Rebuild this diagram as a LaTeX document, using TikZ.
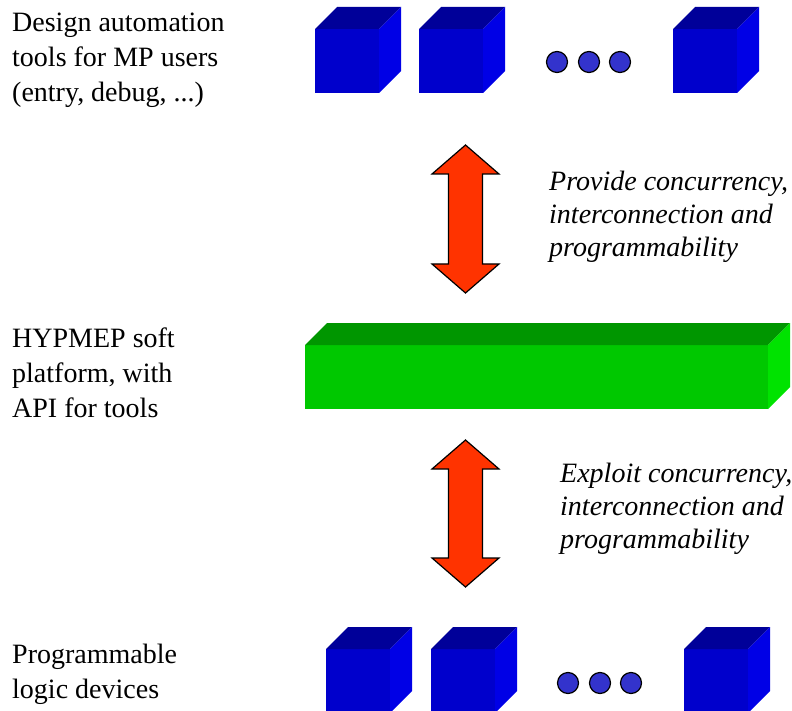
\documentclass[tikz,border=0pt]{standalone}
\usepackage{fontspec}
\setmainfont{Liberation Serif}
\usetikzlibrary{calc}
\definecolor{cubefront}{HTML}{0000CC}
\definecolor{cubetop}{HTML}{000099}
\definecolor{cubeside}{HTML}{0000E6}
\definecolor{barfront}{HTML}{00C800}
\definecolor{bartop}{HTML}{009600}
\definecolor{barside}{HTML}{00E300}
\definecolor{dotblue}{HTML}{3333CC}
\definecolor{arrowred}{HTML}{FF3300}
\tikzset{
	lbl/.style={anchor=base west, align=left, inner sep=0pt, font=\fontsize{28}{35}\selectfont},
	itlbl/.style={anchor=base west, align=left, inner sep=0pt, font=\fontsize{28}{33}\selectfont\itshape},
	dot/.style={fill=dotblue, draw=black, line width=1.2}
}
% cube with front face corner at (#1,#2)
\def\mpcube(#1,#2){
	\fill[cubefront] (#1,#2) rectangle ++(64,64);
	\fill[cubetop] (#1,#2) -- ++(22,-22) -- ++(64,0) -- ++(-22,22) -- cycle;
	\fill[cubeside] ($(#1,#2)+(64,0)$) -- ++(22,-22) -- ++(0,64) -- ++(-22,22) -- cycle;
}
% double block arrow, centre x, top tip, bottom tip
\def\twoway(#1,#2,#3){
	\filldraw[fill=arrowred, draw=black, line width=1.2]
		(#1,#2) -- (#1+33.5,#2+29) -- (#1+17,#2+29) -- (#1+17,#3-29) -- (#1+33.5,#3-29)
		-- (#1,#3) -- (#1-33.5,#3-29) -- (#1-17,#3-29) -- (#1-17,#2+29) -- (#1-33.5,#2+29) -- cycle;
}

\begin{document}
\begin{tikzpicture}[x=1pt, y=-1pt]
		%%%%% START %%%%%
		\useasboundingbox (0,0) rectangle (792,711);
		
		% tools row
		\mpcube(315,29)
		\mpcube(419,29)
		\mpcube(673,29)
		\draw[dot] (557,62) circle (10.5);
		\draw[dot] (589,62) circle (10.5);
		\draw[dot] (620,62) circle (10.5);
		
		% labels sit on the baseline of their last line
		\node[lbl] (designtools) at (12,102) {Design automation\\tools for MP users\\(entry, debug, ...)};
		
		\twoway(465.5,145,293)
		\node[itlbl] (providetxt) at (549,257) {Provide concurrency,\\interconnection and\\programmability};
		
		% soft platform bar
		\fill[barfront] (305,345) rectangle (768,409);
		\fill[bartop] (305,345) -- (327,323) -- (790,323) -- (768,345) -- cycle;
		\fill[barside] (768,345) -- (790,323) -- (790,387) -- (768,409) -- cycle;
		
		\node[lbl] (softplatform) at (12,417) {HYPMEP soft\\platform, with\\API for tools};
		
		\twoway(465.5,440,587)
		\node[itlbl] (exploittxt) at (560,548) {Exploit concurrency,\\interconnection and\\programmability};
		
		% devices row
		\mpcube(326,649)
		\mpcube(431,649)
		\mpcube(684,649)
		\draw[dot] (568,683) circle (10.5);
		\draw[dot] (600,683) circle (10.5);
		\draw[dot] (631,683) circle (10.5);
		
		\node[lbl] (pldevices) at (12,698) {Programmable\\logic devices};
		%%%%% END %%%%%
	\end{tikzpicture}
\end{document}
